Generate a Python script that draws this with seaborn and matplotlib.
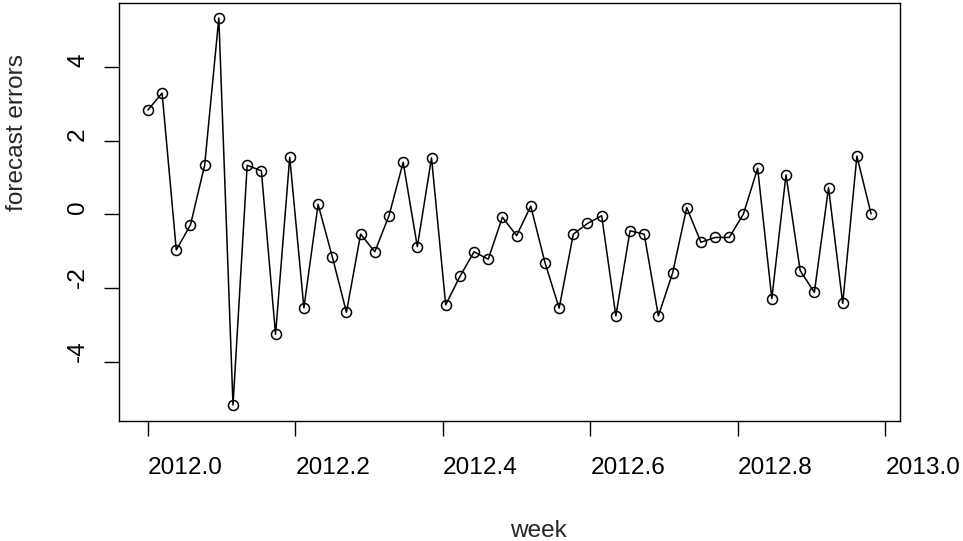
import numpy as np
import pandas as pd
import matplotlib
matplotlib.use("Agg")
import matplotlib.pyplot as plt
import seaborn as sns

# weekly forecast errors for 2012 (52 weeks)
errors = [2.83, 3.29, -0.97, -0.29, 1.33, 5.33, -5.18, 1.33, 1.18, -3.26,
          1.55, -2.54, 0.27, -1.15, -2.66, -0.54, -1.02, -0.04, 1.41, -0.88,
          1.53, -2.46, -1.69, -1.02, -1.22, -0.08, -0.58, 0.22, -1.31, -2.55,
          -0.54, -0.25, -0.04, -2.76, -0.45, -0.54, -2.76, -1.60, 0.18, -0.76,
          -0.63, -0.63, 0.01, 1.25, -2.29, 1.07, -1.53, -2.12, 0.72, -2.42,
          1.58, 0.01]
start_year = 2012
frequency = 52
x_ticks = [2012.0, 2012.2, 2012.4, 2012.6, 2012.8, 2013.0]
y_ticks = [-4, -2, 0, 2, 4]

week = [start_year + i / frequency for i in range(len(errors))]
df = pd.DataFrame({"week": week, "forecast errors": errors})

sns.set_theme(style="ticks")
plt.rcParams["font.family"] = ["Liberation Sans", "DejaVu Sans"]

W, H = 963, 541
FS = 17.6
fig = plt.figure(figsize=(W / 100, H / 100), dpi=100)
ax = fig.add_axes([119 / W, 1 - 420.5 / H, (900 - 119) / W, (420.5 - 2.5) / H])

sns.lineplot(data=df, x="week", y="forecast errors", ax=ax, color="black",
             linewidth=1.1, marker="o", markersize=7.2, markerfacecolor="none",
             markeredgecolor="black", markeredgewidth=1.1)

# R-style 4% axis extension
xr = max(week) - min(week)
yr = max(errors) - min(errors)
ax.set_xlim(min(week) - 0.04 * xr, max(week) + 0.04 * xr)
ax.set_ylim(min(errors) - 0.04 * yr, max(errors) + 0.04 * yr)

ax.set_xticks(x_ticks)
ax.set_xticklabels([f"{v:.1f}" for v in x_ticks], fontsize=FS)
for lbl in ax.get_xticklabels():
    lbl.set_horizontalalignment("left")
ax.set_yticks(y_ticks)
ax.set_yticklabels([str(v) for v in y_ticks], rotation=90, fontsize=FS)
for lbl in ax.get_yticklabels():
    lbl.set_verticalalignment("bottom")
    lbl.set_horizontalalignment("right")

for s in ax.spines.values():
    s.set_visible(True)
    s.set_color("black")
    s.set_linewidth(1.0)

ax.tick_params(axis="both", direction="out", length=10.5, width=1.0, color="black",
               labelcolor="black")
ax.tick_params(axis="x", pad=15.5)
ax.tick_params(axis="y", pad=11)

ax.set_xlabel("")
ax.set_ylabel("")
fig.text(510 / W, 1 - 537 / H, "week", ha="left", va="baseline", fontsize=FS)
fig.text(6 / W, 1 - 211 / H, "forecast errors", ha="left", va="bottom",
         rotation=90, fontsize=FS)

fig.savefig("out.png", dpi=100)
